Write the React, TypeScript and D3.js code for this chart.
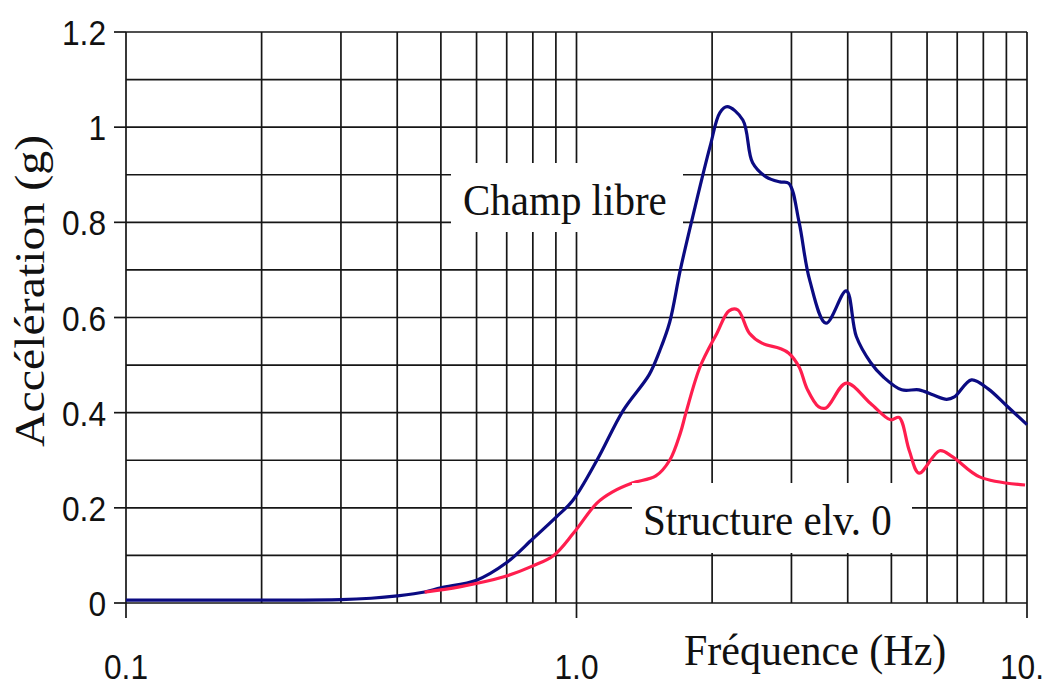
import React from "react";
import * as d3 from "d3";

const yTickValues = [0, 0.2, 0.4, 0.6, 0.8, 1.0, 1.2];
const yTickLabels = ["0", "0.2", "0.4", "0.6", "0.8", "1", "1.2"];
const yGridValues = [0, 0.1, 0.2, 0.3, 0.4, 0.5, 0.6, 0.7, 0.8, 0.9, 1.0, 1.1, 1.2];
const xTickValues = [0.1, 1, 10];
const xTickLabels = ["0.1", "1.0", "10."];
const xGridValues = [0.1, 0.2, 0.3, 0.4, 0.5, 0.6, 0.7, 0.8, 0.9, 1, 2, 3, 4, 5, 6, 7, 8, 9, 10];

// Champ libre (blue)
const champLibre: [number, number][] = [
  [0.1, 0.006], [0.2, 0.006], [0.3, 0.007], [0.35, 0.01], [0.4, 0.015], [0.46, 0.023],
  [0.5, 0.032], [0.6, 0.048], [0.7, 0.085], [0.8, 0.135], [0.9, 0.18], [0.98, 0.215],
  [1.11, 0.3], [1.27, 0.405], [1.45, 0.48], [1.53, 0.53], [1.61, 0.59], [1.7, 0.7],
  [1.82, 0.82], [1.98, 0.96], [2.08, 1.03], [2.16, 1.043], [2.34, 1.015], [2.46, 0.925],
  [2.64, 0.895], [2.83, 0.885], [2.96, 0.882], [3.12, 0.8], [3.29, 0.68], [3.58, 0.588],
  [3.97, 0.656], [4.18, 0.56], [4.5, 0.505], [4.8, 0.475], [5.27, 0.448], [5.76, 0.448],
  [6.2, 0.437], [6.63, 0.428], [6.9, 0.433], [7.53, 0.469], [8.2, 0.45], [9.0, 0.415],
  [10, 0.375],
];

// Structure elv. 0 (red)
const structure: [number, number][] = [
  [0.46, 0.023], [0.55, 0.034], [0.69, 0.055], [0.8, 0.078], [0.89, 0.1], [0.985, 0.147],
  [1.11, 0.21], [1.2, 0.233], [1.33, 0.252], [1.5, 0.267], [1.61, 0.3], [1.7, 0.357],
  [1.75, 0.4], [1.88, 0.496], [2.05, 0.567], [2.18, 0.614], [2.28, 0.616], [2.42, 0.567],
  [2.58, 0.546], [2.83, 0.535], [2.96, 0.525], [3.12, 0.496], [3.25, 0.45], [3.45, 0.412],
  [3.58, 0.41], [3.97, 0.462], [4.49, 0.42], [4.98, 0.385], [5.2, 0.39], [5.48, 0.32],
  [5.76, 0.273], [6.4, 0.32], [6.84, 0.307], [7.85, 0.265], [9.9, 0.248],
];

const W = 1044;
const H = 686;

export default function App() {
  const x = d3.scaleLog().domain([0.1, 10]).range([126, 1027]);
  const y = d3.scaleLinear().domain([0, 1.2]).range([603, 32]);
  const line = d3
    .line<[number, number]>()
    .x((d) => x(d[0]))
    .y((d) => y(d[1]))
    .curve(d3.curveCatmullRom.alpha(0.5));

  const gridColor = "#161616";
  const sans = "'Liberation Sans', Arial, sans-serif";
  const serif = "'Liberation Serif', 'Times New Roman', serif";

  return (
    <svg
      width={W}
      height={H}
      style={{ position: "fixed", left: 0, top: 0, background: "#fff" }}
    >
      <rect x={0} y={0} width={W} height={H} fill="#fff" />
      {yGridValues.map((v, i) => (
        <line key={"h" + i} x1={x(0.1)} x2={x(10)} y1={y(v)} y2={y(v)}
          stroke={gridColor} strokeWidth={1.7} />
      ))}
      {xGridValues.map((v, i) => (
        <line key={"v" + i} x1={x(v)} x2={x(v)} y1={y(1.2)} y2={y(0)}
          stroke={gridColor} strokeWidth={1.7} />
      ))}
      {yTickValues.map((v, i) => (
        <line key={"yt" + i} x1={x(0.1) - 12} x2={x(0.1)} y1={y(v)} y2={y(v)}
          stroke={gridColor} strokeWidth={1.7} />
      ))}
      {xTickValues.map((v, i) => (
        <line key={"xt" + i} x1={x(v)} x2={x(v)} y1={y(0)} y2={y(0) + 15}
          stroke={gridColor} strokeWidth={1.7} />
      ))}

      <path d={line(champLibre) || ""} fill="none" stroke="#0b0b82" strokeWidth={3.2} strokeLinejoin="round" />
      <path d={line(structure) || ""} fill="none" stroke="#ff1e4e" strokeWidth={3.2} strokeLinejoin="round" />

      <rect x={451} y={163} width={232} height={69} fill="#fff" />
      <rect x={632} y={483} width={280} height={70} fill="#fff" />

      {yTickValues.map((v, i) => (
        <text key={"yl" + i}
          transform={`translate(106,${y(v) + 13}) scale(0.88,1)`}
          textAnchor="end" fontFamily={sans} fontSize={36} fill="#111">
          {yTickLabels[i]}
        </text>
      ))}
      {xTickValues.map((v, i) => (
        <text key={"xl" + i}
          transform={`translate(${i === 2 ? 1000 : x(v)},${679}) scale(0.88,1)`}
          textAnchor={i === 2 ? "start" : "middle"}
          fontFamily={sans} fontSize={36} fill="#111">
          {xTickLabels[i]}
        </text>
      ))}

      <text transform="translate(684,665) scale(1,1.05)" fontFamily={serif} fontSize={42} fill="#111">
        Fréquence (Hz)
      </text>
      <text transform="translate(44,291) rotate(-90) scale(1.14,1)"
        textAnchor="middle" fontFamily={serif} fontSize={42} fill="#111">
        Accélération (g)
      </text>

      <text transform="translate(463,215) scale(1,1.1)" fontFamily={serif} fontSize={41} fill="#111">
        Champ libre
      </text>
      <text transform="translate(643,535) scale(1,1.1)" fontFamily={serif} fontSize={41} fill="#111">
        Structure elv. 0
      </text>
    </svg>
  );
}
